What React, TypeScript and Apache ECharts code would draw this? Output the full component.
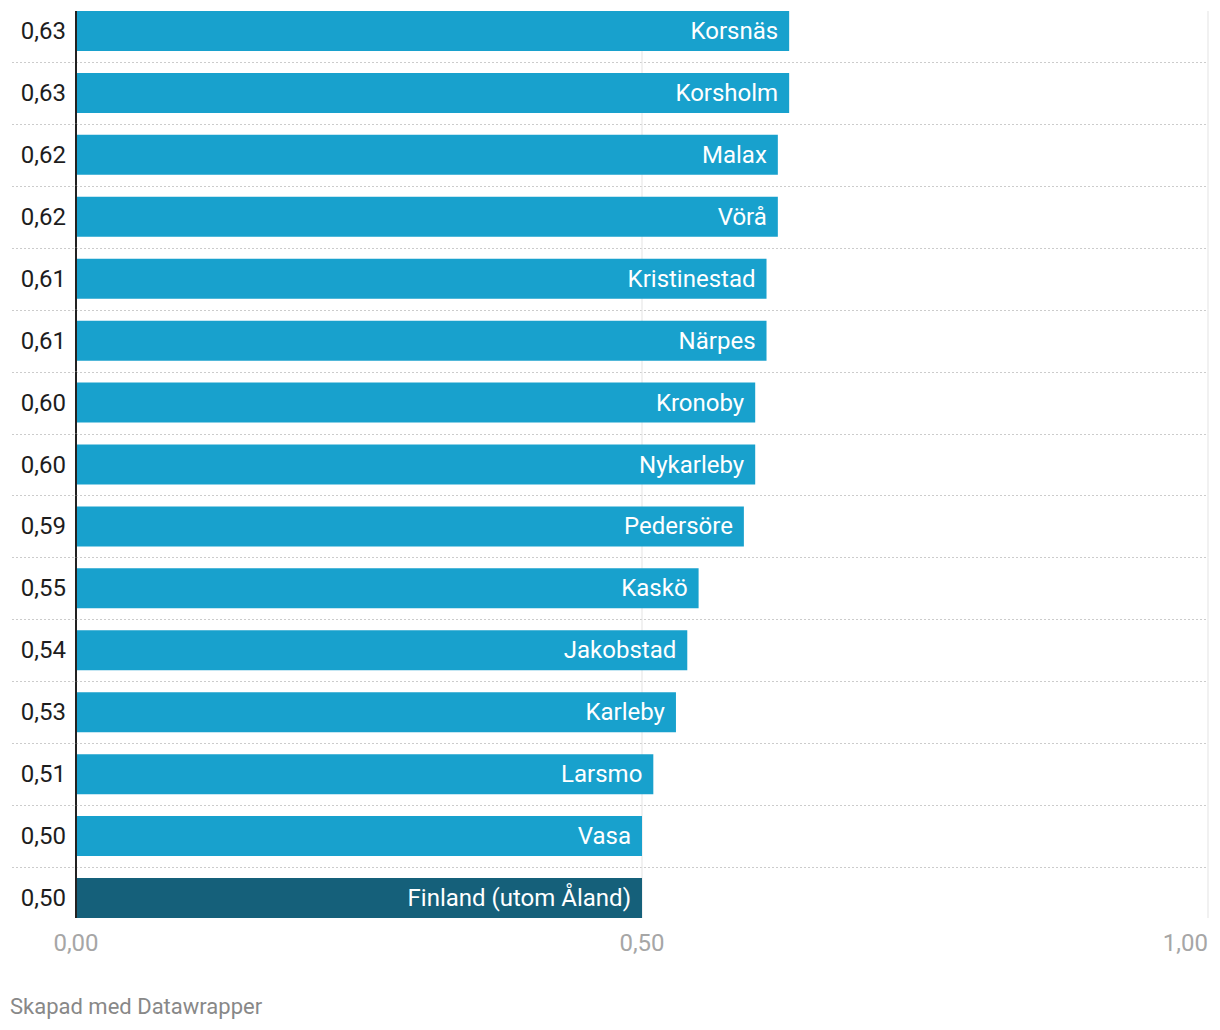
import React, { useEffect, useRef } from "react";
import * as echarts from "echarts";

const names = [
  "Korsnäs",
  "Korsholm",
  "Malax",
  "Vörå",
  "Kristinestad",
  "Närpes",
  "Kronoby",
  "Nykarleby",
  "Pedersöre",
  "Kaskö",
  "Jakobstad",
  "Karleby",
  "Larsmo",
  "Vasa",
  "Finland (utom Åland)",
];
const values = [0.63, 0.63, 0.62, 0.62, 0.61, 0.61, 0.6, 0.6, 0.59, 0.55, 0.54, 0.53, 0.51, 0.5, 0.5];
const highlighted = ["Finland (utom Åland)"];
const xTicks = [0, 0.5, 1];
const footer = "Skapad med Datawrapper";

const fmt = (v: number) => v.toFixed(2).replace(".", ",");
const FONT = "Roboto, sans-serif";
const BAR_W = 40;

export default function App() {
  const ref = useRef<HTMLDivElement>(null);
  useEffect(() => {
    document.body.style.margin = "0";
    const chart = echarts.init(ref.current!, null, { renderer: "svg" });
    const n = names.length;
    const rows = names.map((_, i) => [0, i]);
    chart.setOption({
      animation: false,
      textStyle: { fontFamily: FONT },
      title: {
        text: footer,
        left: 10,
        top: 995,
        padding: 0,
        textStyle: { fontFamily: FONT, fontSize: 22, fontWeight: "normal", color: "#888888" },
      },
      grid: { left: 76, right: 12, top: -1, height: 930, containLabel: false },
      xAxis: {
        type: "value",
        min: 0,
        max: 1,
        interval: 0.5,
        axisLine: { show: false },
        axisTick: { show: false },
        splitLine: { show: false },
        axisLabel: {
          formatter: (v: number) => fmt(v),
          color: "#a6a6a6",
          fontSize: 24,
          fontFamily: FONT,
          margin: 2,
          alignMinLabel: "center",
          alignMaxLabel: "right",
        },
      },
      yAxis: {
        type: "category",
        inverse: true,
        data: names,
        axisLine: { show: false },
        axisTick: { show: false },
        splitLine: { show: false },
        axisLabel: {
          formatter: (_v: string, i: number) => fmt(values[i]),
          color: "#1d1d1d",
          fontSize: 24,
          fontFamily: FONT,
          margin: 10,
        },
      },
      series: [
        {
          type: "custom",
          z: 1,
          silent: true,
          data: rows,
          renderItem: (params: any, api: any) => {
            const k = params.dataIndex;
            const cs = params.coordSys;
            const c = api.coord([0, k]);
            const band = api.size([0, 1])[1];
            const top = k === 0 ? c[1] - BAR_W / 2 : c[1] - band / 2;
            const bottom = k === n - 1 ? c[1] + BAR_W / 2 : c[1] + band / 2;
            const children: any[] = [];
            xTicks.slice(1).forEach((t) => {
              const x = api.coord([t, k])[0];
              children.push({
                type: "line",
                shape: { x1: x, y1: top, x2: x, y2: bottom },
                style: { stroke: "#e3e3e3", lineWidth: 1 },
              });
            });
            if (k < n - 1) {
              const y = Math.round(c[1] + band / 2) + 0.5;
              children.push({
                type: "line",
                shape: { x1: 12, y1: y, x2: cs.x + cs.width, y2: y },
                style: { stroke: "#cccccc", lineWidth: 1, lineDash: [2, 2] },
              });
            }
            return { type: "group", children };
          },
        },
        {
          type: "bar",
          z: 2,
          barWidth: BAR_W,
          data: values.map((v, i) => ({
            value: v,
            itemStyle: { color: highlighted.includes(names[i]) ? "#15607a" : "#18a1cd" },
          })),
          label: {
            show: true,
            position: "insideRight",
            distance: 11,
            formatter: (p: any) => p.name,
            color: "#ffffff",
            fontSize: 24,
            fontFamily: FONT,
          },
        },
        {
          type: "custom",
          z: 5,
          silent: true,
          data: rows,
          renderItem: (params: any, api: any) => {
            const k = params.dataIndex;
            const c = api.coord([0, k]);
            const band = api.size([0, 1])[1];
            const top = k === 0 ? c[1] - BAR_W / 2 : c[1] - band / 2;
            const bottom = k === n - 1 ? c[1] + BAR_W / 2 : c[1] + band / 2;
            return {
              type: "line",
              shape: { x1: c[0], y1: top, x2: c[0], y2: bottom },
              style: { stroke: "#222222", lineWidth: 2 },
            };
          },
        },
      ],
    });
    return () => chart.dispose();
  }, []);
  return <div ref={ref} style={{ width: 1220, height: 1030 }} />;
}
